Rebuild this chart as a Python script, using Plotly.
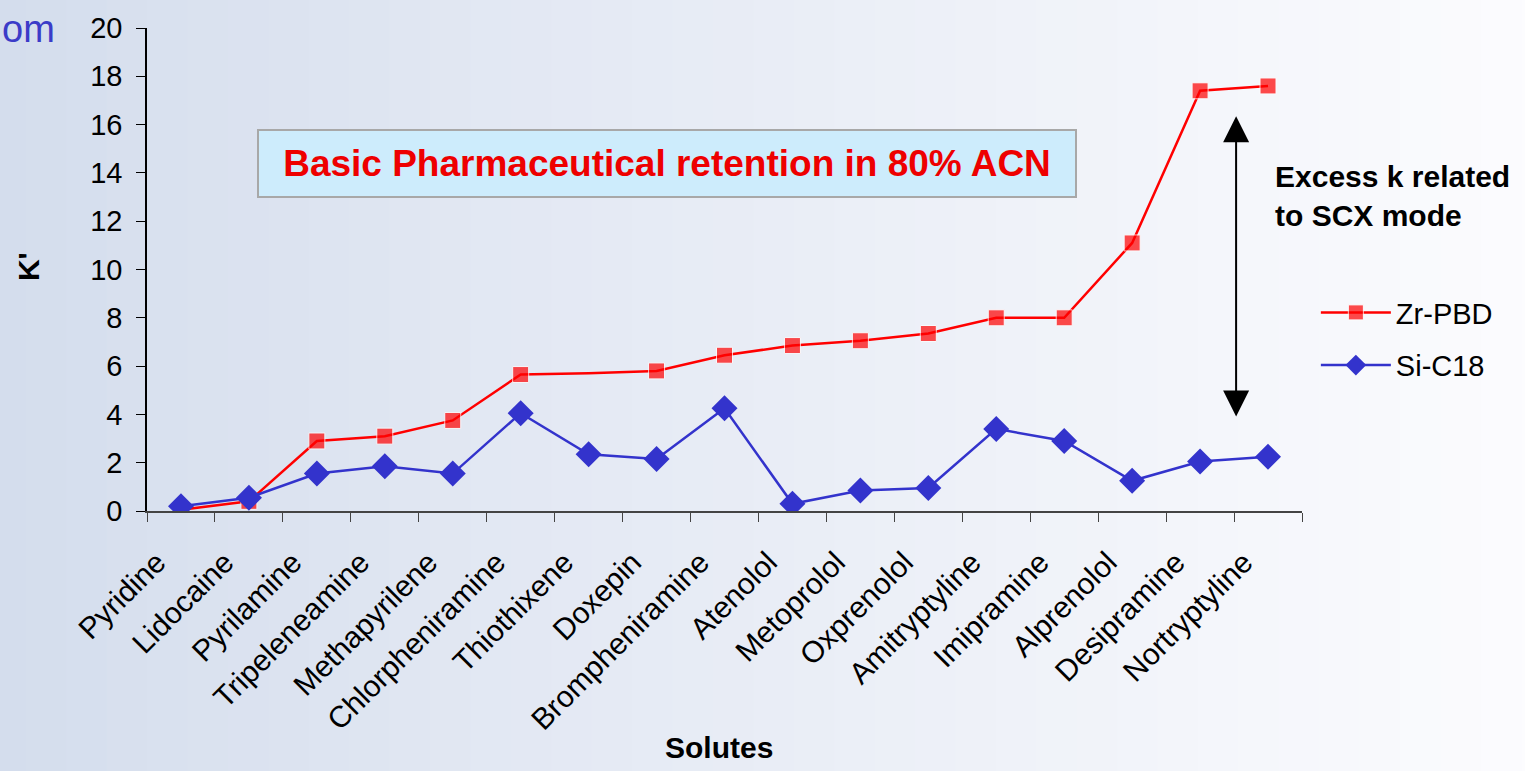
import plotly.graph_objects as go

# data
solutes = ["Pyridine", "Lidocaine", "Pyrilamine", "Tripeleneamine", "Methapyrilene",
           "Chlorpheniramine", "Thiothixene", "Doxepin", "Brompheniramine", "Atenolol",
           "Metoprolol", "Oxprenolol", "Amitryptyline", "Imipramine", "Alprenolol",
           "Desipramine", "Nortryptyline"]
zr_pbd = [0.05, 0.4, 2.9, 3.1, 3.75, 5.65, 5.7, 5.8, 6.45, 6.85, 7.05, 7.35,
          8.0, 8.0, 11.1, 17.4, 17.6]
si_c18 = [0.2, 0.55, 1.55, 1.85, 1.55, 4.05, 2.35, 2.15, 4.25, 0.3, 0.85, 0.95,
          3.4, 2.9, 1.25, 2.05, 2.25]
y_ticks = list(range(0, 21, 2))

FONT = "Liberation Sans, Arial, sans-serif"

fig = go.Figure()

# red series has no visible marker at Thiothixene
red_sizes = [16] * len(solutes)
red_sizes[solutes.index("Thiothixene")] = 0

fig.add_trace(go.Scatter(
    x=solutes, y=zr_pbd, name="Zr-PBD", mode="lines+markers",
    line=dict(color="#ff0000", width=2.5),
    marker=dict(symbol="square", size=red_sizes, color="#ff0000"),
    legendgroup="a",
))
fig.add_trace(go.Scatter(
    x=solutes, y=si_c18, name="Si-C18", mode="lines+markers",
    line=dict(color="#3333cc", width=2.5),
    marker=dict(symbol="diamond", size=20, color="#3333cc"),
    legendgroup="b",
))

# soft background gradient, bluish on the left fading to white on the right
shapes = []
n = 40
c0 = (212, 221, 237)
c1 = (253, 253, 255)
x_start, x_span = -0.14, 1.40
for i in range(n):
    t = i / (n - 1)
    c = tuple(int(c0[k] + (c1[k] - c0[k]) * t ** 0.9) for k in range(3))
    shapes.append(dict(
        type="rect", xref="paper", yref="paper", layer="below",
        x0=x_start + i * x_span / n, x1=x_start + (i + 1) * x_span / n + 0.002,
        y0=-0.6, y1=1.1, line=dict(width=0),
        fillcolor="rgb(%d,%d,%d)" % c,
    ))

fig.update_layout(
    width=1525, height=771,
    margin=dict(l=147, r=223, t=23, b=260),
    paper_bgcolor="white",
    plot_bgcolor="rgba(0,0,0,0)",
    font=dict(family=FONT, size=29, color="black"),
    shapes=shapes,
    showlegend=True,
    legend=dict(
        x=1.012, y=0.356, xanchor="left", yanchor="middle",
        bgcolor="rgba(0,0,0,0)", font=dict(size=29),
        tracegroupgap=12, itemwidth=70,
    ),
    xaxis=dict(
        type="category", range=[-0.5, len(solutes) - 0.5],
        showline=True, linecolor="#444444", linewidth=1.5,
        ticks="outside", tickson="boundaries", ticklen=9, tickcolor="#444444",
        tickangle=-45, showgrid=False, zeroline=False,
        tickfont=dict(size=30), ticklabelstandoff=20, ticklabelshift=-24,
    ),
    yaxis=dict(
        range=[0, 20], tickvals=y_ticks,
        showline=True, linecolor="black", linewidth=1.5,
        ticks="outside", ticklen=9, tickcolor="black",
        showgrid=False, zeroline=False, ticklabeloverflow="allow",
        tickfont=dict(size=29), ticklabelstandoff=8,
    ),
    annotations=[
        dict(text="<b>Basic Pharmaceutical retention in 80% ACN</b>",
             xref="paper", yref="paper", x=0.450, y=0.720,
             xanchor="center", yanchor="middle",
             showarrow=False, font=dict(size=37, color="#ee0000"),
             bgcolor="#cdecfc", bordercolor="#a8a8a8", borderwidth=2,
             width=814, height=63),
        dict(text="<b>Excess k related<br>to SCX mode</b>",
             xref="paper", yref="paper", x=0.975, y=0.652,
             xanchor="left", yanchor="middle", align="left",
             showarrow=False, font=dict(size=30)),
        dict(x=15.53, y=16.35, ax=15.53, ay=3.85, xref="x", yref="y",
             axref="x", ayref="y", text="", showarrow=True,
             arrowhead=2, startarrowhead=2, arrowside="end+start",
             arrowsize=2.6, arrowwidth=2, arrowcolor="black"),
        dict(text="<b>K'</b>", xref="paper", yref="paper", x=-0.103, y=0.505,
             xanchor="center", yanchor="middle",
             textangle=-90, showarrow=False, font=dict(size=30)),
        dict(text="<b>Solutes</b>", xref="paper", yref="paper", x=0.495, y=-0.49,
             xanchor="center", yanchor="middle",
             showarrow=False, font=dict(size=30)),
        dict(text="om", xref="paper", yref="paper", x=-0.127, y=1.046,
             xanchor="left", yanchor="top",
             showarrow=False, font=dict(size=38, color="#3b3bc8")),
    ],
)

# drop the page's default body margin so the figure fills the window
fig.write_html("out.html", config={"displayModeBar": False},
               post_script="document.body.style.margin='0';")
